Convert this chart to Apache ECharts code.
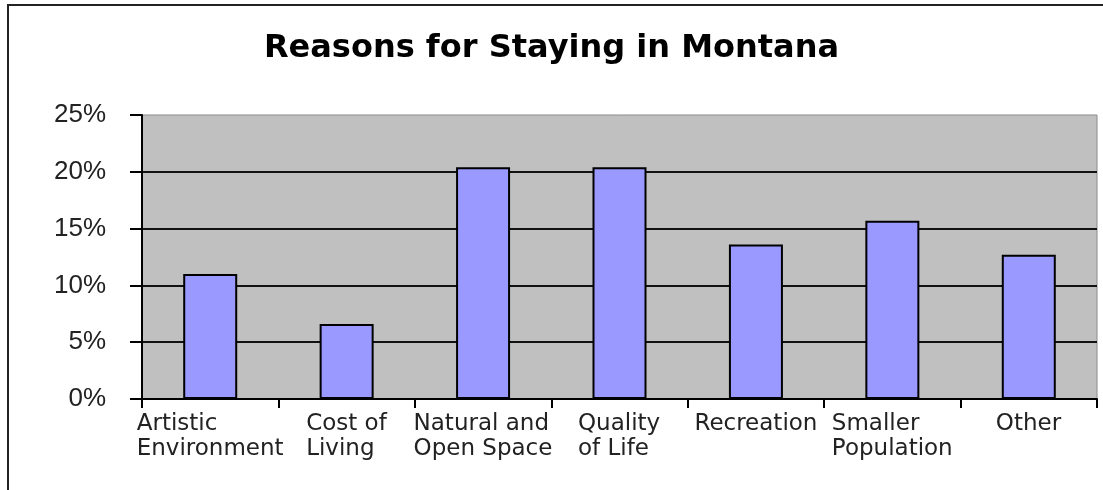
<!DOCTYPE html>
<html>
<head>
<meta charset="utf-8">
<script src="https://cdn.jsdelivr.net/npm/echarts@6/dist/echarts.min.js"></script>
<style>
  html, body { margin: 0; padding: 0; background: #fff; }
  #chart { width: 1103px; height: 490px; }
</style>
</head>
<body>
<div id="chart"></div>
<script>
const categories = [
  "Artistic\nEnvironment",
  "Cost of\nLiving",
  "Natural and\nOpen Space",
  "Quality\nof Life",
  "Recreation",
  "Smaller\nPopulation",
  "Other",
];
const shares = [11.0, 6.6, 20.4, 20.4, 13.6, 15.7, 12.7];
const yTicks = [0, 5, 10, 15, 20, 25];

const labelFont = "23px 'DejaVu Sans'";

// measure the widest line of each label so lines can be left-aligned in a centred block
const ctx = document.createElement("canvas").getContext("2d");
ctx.font = labelFont;
const rich = {};
categories.forEach((name, i) => {
  const w = Math.max(...name.split("\n").map((s) => ctx.measureText(s).width));
  rich["r" + i] = { width: Math.ceil(w), align: "left", lineHeight: 25 };
});

const chart = echarts.init(document.getElementById("chart"));
chart.setOption({
  animation: false,
  textStyle: { fontFamily: "DejaVu Sans" },
  title: {
    text: "Reasons for Staying in Montana",
    left: "center",
    top: 28,
    textStyle: {
      fontFamily: "DejaVu Sans",
      fontWeight: "bold",
      fontSize: 32,
      color: "#000",
    },
  },
  graphic: [
    {
      type: "rect",
      shape: { x: 8, y: 5, width: 1300, height: 700 },
      style: { fill: null, stroke: "#222", lineWidth: 2 },
      silent: true,
    },
  ],
  grid: {
    left: 142,
    right: 6,
    top: 115,
    bottom: 91,
    show: true,
    backgroundColor: "#c0c0c0",
    borderColor: "#8a8a8a",
    borderWidth: 1,
  },
  xAxis: {
    type: "category",
    data: categories,
    axisLine: { lineStyle: { color: "#000", width: 2 } },
    axisTick: { show: true, length: 9, lineStyle: { color: "#000", width: 2 } },
    axisLabel: {
      interval: 0,
      margin: 13,
      color: "#222",
      fontFamily: "DejaVu Sans",
      fontSize: 23,
      lineHeight: 25,
      rich,
      formatter: (value, index) =>
        value
          .split("\n")
          .map((s) => `{r${index}|${s}}`)
          .join("\n"),
    },
  },
  yAxis: {
    type: "value",
    min: yTicks[0],
    max: yTicks[yTicks.length - 1],
    interval: 5,
    axisLine: { show: true, lineStyle: { color: "#000", width: 2 } },
    axisTick: { show: true, length: 12, lineStyle: { color: "#000", width: 2 } },
    axisLabel: {
      margin: 36,
      color: "#222",
      fontFamily: "Liberation Sans",
      fontSize: 26,
      formatter: (v) => v + "%",
    },
    splitLine: {
      show: true,
      showMaxLine: false,
      lineStyle: { color: "#111", width: 2 },
    },
  },
  series: [
    {
      type: "bar",
      data: shares,
      barWidth: 54,
      itemStyle: { color: "#9999ff", borderColor: "#000", borderWidth: 2 },
    },
  ],
});
</script>
</body>
</html>
